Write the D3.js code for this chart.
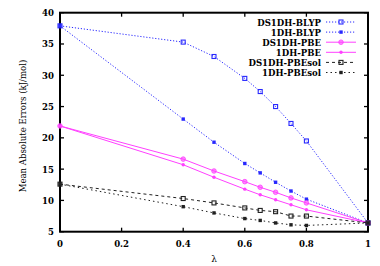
<!DOCTYPE html>
<html>
<head>
<meta charset="utf-8">
<script src="https://cdn.jsdelivr.net/npm/d3@7"></script>
<style>
  body { margin: 0; background: #fff; }
  svg { display: block; }
  svg text { font-family: "DejaVu Serif Condensed", "DejaVu Serif", serif; font-stretch: condensed; }
</style>
</head>
<body>
<svg width="380" height="266"></svg>
<script>
// Data
const lambdas = [0, 0.4, 0.5, 0.6, 0.65, 0.7, 0.75, 0.8, 1];
const ds1dhBlyp   = [37.9, 35.3, 33.0, 29.5, 27.4, 25.0, 22.3, 19.5, 6.4];
const oneDhBlyp   = [37.9, 23.0, 19.3, 15.9, 14.4, 12.9, 11.5, 10.2, 6.4];
const ds1dhPbe    = [21.9, 16.6, 14.7, 13.0, 12.1, 11.3, 10.4, 9.6, 6.4];
const oneDhPbe    = [21.9, 15.7, 13.7, 11.8, 10.9, 10.1, 9.3, 8.5, 6.4];
const ds1dhPbesol = [12.6, 10.3, 9.6, 8.8, 8.4, 8.2, 7.5, 7.5, 6.4];
const oneDhPbesol = [12.6, 9.0, 8.0, 7.1, 6.8, 6.4, 6.1, 6.0, 6.4];
const xTicks = [0, 0.2, 0.4, 0.6, 0.8, 1];
const yTicks = [5, 10, 15, 20, 25, 30, 35, 40];

const series = [
  {name: "DS1DH-BLYP",   values: ds1dhBlyp,   color: "#2828ff", dash: "1.2,1.8", marker: "openSquare"},
  {name: "1DH-BLYP",     values: oneDhBlyp,   color: "#2828ff", dash: "1.2,1.8", marker: "square"},
  {name: "DS1DH-PBE",    values: ds1dhPbe,    color: "#ff40ff", dash: null,      marker: "bigCircle"},
  {name: "1DH-PBE",      values: oneDhPbe,    color: "#ff40ff", dash: null,      marker: "circle"},
  {name: "DS1DH-PBEsol", values: ds1dhPbesol, color: "#202020", dash: "3,3",     marker: "openSquare"},
  {name: "1DH-PBEsol",   values: oneDhPbesol, color: "#202020", dash: "1.5,3",   marker: "square"}
];

const svg = d3.select("svg");
const x = d3.scaleLinear().domain([0, 1]).range([60, 368]);
const y = d3.scaleLinear().domain([5, 40]).range([231.7, 12.7]);

// frame
svg.append("rect")
  .attr("x", x(0)).attr("y", y(40))
  .attr("width", x(1) - x(0)).attr("height", y(5) - y(40))
  .attr("fill", "none").attr("stroke", "#000").attr("stroke-width", 2);

// ticks (inward on all four sides)
const tickG = svg.append("g").attr("stroke", "#000").attr("stroke-width", 1.3);
xTicks.forEach(t => {
  tickG.append("line").attr("x1", x(t)).attr("x2", x(t)).attr("y1", y(5)).attr("y2", y(5) - 4);
  tickG.append("line").attr("x1", x(t)).attr("x2", x(t)).attr("y1", y(40)).attr("y2", y(40) + 4);
});
yTicks.forEach(t => {
  tickG.append("line").attr("x1", x(0)).attr("x2", x(0) + 4).attr("y1", y(t)).attr("y2", y(t));
  tickG.append("line").attr("x1", x(1)).attr("x2", x(1) - 4).attr("y1", y(t)).attr("y2", y(t));
});

// tick labels
svg.append("g").selectAll("text").data(xTicks).join("text")
  .attr("x", d => x(d)).attr("y", 247)
  .attr("text-anchor", "middle").attr("font-size", 9.5).attr("font-weight", "bold")
  .text(d => d3.format("~g")(d));
svg.append("g").selectAll("text").data(yTicks).join("text")
  .attr("x", 54).attr("y", d => y(d) + 3.5)
  .attr("text-anchor", "end").attr("font-size", 9.5).attr("font-weight", "bold")
  .text(d => d);

// axis titles
svg.append("text").attr("x", x(0.5)).attr("y", 262)
  .attr("text-anchor", "middle").attr("font-size", 10).text("λ");
svg.append("text")
  .attr("transform", "translate(26,126) rotate(-90)")
  .attr("text-anchor", "middle").attr("font-size", 9.5)
  .text("Mean Absolute Errors (kJ/mol)");

function drawMarker(g, kind, cx, cy, color) {
  if (kind === "openSquare") {
    g.append("rect").attr("x", cx - 2).attr("y", cy - 2).attr("width", 4).attr("height", 4)
      .attr("fill", "none").attr("stroke", color).attr("stroke-width", 1.1);
  } else if (kind === "square") {
    g.append("rect").attr("x", cx - 1.7).attr("y", cy - 1.7).attr("width", 3.4).attr("height", 3.4)
      .attr("fill", color);
  } else if (kind === "bigCircle") {
    g.append("circle").attr("cx", cx).attr("cy", cy).attr("r", 2.3)
      .attr("fill", color).attr("fill-opacity", 0.6).attr("stroke", color).attr("stroke-width", 0.8);
  } else {
    g.append("circle").attr("cx", cx).attr("cy", cy).attr("r", 1.7).attr("fill", color);
  }
}

const line = d3.line().x(d => x(d[0])).y(d => y(d[1]));

series.forEach(s => {
  const pts = lambdas.map((l, i) => [l, s.values[i]]);
  const g = svg.append("g");
  g.append("path").attr("d", line(pts))
    .attr("fill", "none").attr("stroke", s.color).attr("stroke-width", 1)
    .attr("stroke-dasharray", s.dash);
  pts.forEach(p => drawMarker(g, s.marker, x(p[0]), y(p[1]), s.color));
});

// legend
const leg = svg.append("g");
series.forEach((s, i) => {
  const ly = 22 + i * 10.1;
  leg.append("text").attr("x", 321).attr("y", ly + 3.5)
    .attr("text-anchor", "end").attr("font-size", 9.5).attr("font-weight", "bold")
    .text(s.name);
  leg.append("line").attr("x1", 326).attr("x2", 356).attr("y1", ly).attr("y2", ly)
    .attr("stroke", s.color).attr("stroke-width", 1).attr("stroke-dasharray", s.dash);
  drawMarker(leg, s.marker, 341, ly, s.color);
});
</script>
</body>
</html>
